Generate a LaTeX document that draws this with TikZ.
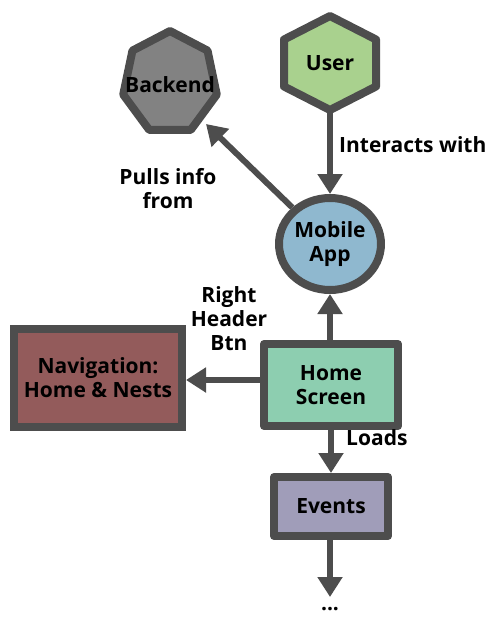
\documentclass[tikz,border=0pt]{standalone}
\usepackage{fontspec}
\setmainfont{Open Sans}
\usetikzlibrary{shapes.geometric,arrows.meta}
\definecolor{edgegray}{HTML}{4D4D4D}
\definecolor{backendfill}{HTML}{828282}
\definecolor{userfill}{HTML}{A9D18E}
\definecolor{appfill}{HTML}{8FB8CF}
\definecolor{homefill}{HTML}{8DCEB0}
\definecolor{navfill}{HTML}{935B5B}
\definecolor{eventfill}{HTML}{A09DB9}
\begin{document}
\begin{tikzpicture}[x=1pt,y=1pt,
  font=\fontsize{21}{24}\selectfont\bfseries,
  outline/.style={draw=edgegray, line width=8pt, line join=round},
  shapebox/.style={outline, align=center, inner sep=0pt, text=black},
  flow/.style={draw=edgegray, line width=6pt, -{Triangle[width=24pt,length=20pt]}},
  lbl/.style={align=center, inner sep=0pt, text=black}]
\useasboundingbox (0,0) rectangle (489,-624);

% hexagon outline for the user
\filldraw[outline, fill=userfill]
  (330,-16) -- (376,-39.5) -- (376,-86.5) -- (330,-110) -- (284,-86.5) -- (284,-39.5) -- cycle;
\node[lbl] (user) at (330,-63) {User};
\coordinate (userbase) at (330,-112);

% heptagon outline for the backend
\filldraw[outline, fill=backendfill]
  (170,-31) \foreach \k in {1,...,6} { -- ({170+48*cos(90+\k*360/7)},{-83+52*sin(90+\k*360/7)}) } -- cycle;
\node[lbl] (backend) at (170,-85) {Backend};
\coordinate (backendtip) at (206,-124);

\node[shapebox, fill=appfill, ellipse, minimum width=102pt, minimum height=92pt] (app) at (330,-244) {Mobile\\App};

\node[shapebox, fill=homefill, minimum width=134pt, minimum height=82pt] (home) at (331,-385) {Home\\Screen};

\node[shapebox, fill=navfill, line join=miter, minimum width=168pt, minimum height=98pt] (nav) at (98,-378) {Navigation:\\Home \& Nests};

\node[shapebox, fill=eventfill, minimum width=114pt, minimum height=59pt] (events) at (331,-506.5) {Events};

\node[lbl] (more) at (330,-609) {...};
\coordinate (moretop) at (330,-597);

% connectors
\draw[flow] (userbase) -- (app.north);
\draw[flow] (app) -- (backendtip);
\draw[flow] (home.north -| app.south) -- (app.south);
\draw[flow] (home.west |- 0,-380) -- (nav.east |- 0,-380);
\draw[flow] (home.south -| events.north) -- (events.north);
\draw[flow] (events.south -| moretop) -- (moretop);

% connector labels
\node[lbl, anchor=west] at (339,-145) {Interacts with};
\node[lbl] at (168,-189) {Pulls info\\from};
\node[lbl] at (229,-319) {Right\\Header\\Btn};
\node[lbl, anchor=west] at (346,-438) {Loads};
\end{tikzpicture}
\end{document}
